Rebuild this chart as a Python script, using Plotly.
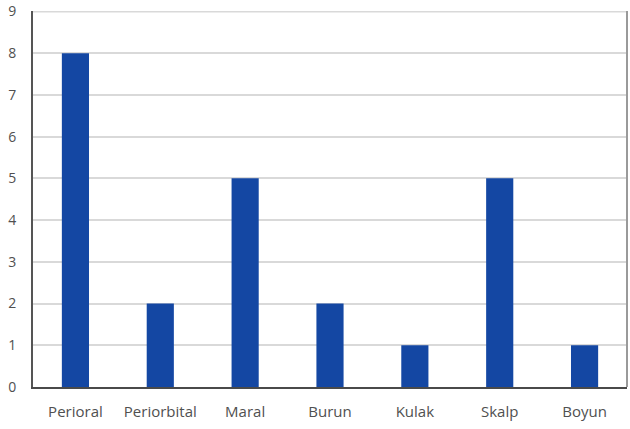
import plotly.graph_objects as go

categories = ["Perioral", "Periorbital", "Maral", "Burun", "Kulak", "Skalp", "Boyun"]
values = [8, 2, 5, 2, 1, 5, 1]
y_ticks = list(range(0, 10))

fig = go.Figure(go.Bar(
    x=categories, y=values,
    marker=dict(color="#1447a3", line=dict(width=0)),
))

fig.update_layout(
    width=630, height=429,
    margin=dict(l=33, r=3, t=11, b=42, autoexpand=False),
    paper_bgcolor="white", plot_bgcolor="white",
    bargap=0.68,
    showlegend=False,
    font=dict(family="Open Sans", color="#555555"),
)
fig.update_xaxes(
    showline=True, linecolor="#4a4a4a", linewidth=2, automargin=False,
    mirror=False, ticks="", tickfont=dict(size=15, color="#505050"),
    ticklabelstandoff=10,
)
fig.update_yaxes(
    range=[0, 9.01], tickvals=y_ticks, showgrid=True, gridcolor="#d9d9d9", gridwidth=2,
    showline=True, linecolor="#555555", linewidth=2, zeroline=False, automargin=False,
    ticks="", tickfont=dict(size=14, color="#505050"), ticklabelstandoff=12,
    ticklabeloverflow="allow",
)
# right frame line
fig.add_shape(type="line", xref="paper", yref="paper", x0=1, x1=1, y0=0, y1=1,
              line=dict(color="#9a9a9a", width=2))
# top gridline (kept visible at the top edge)
fig.add_shape(type="line", xref="paper", yref="y", x0=0, x1=1, y0=y_ticks[-1], y1=y_ticks[-1],
              line=dict(color="#d9d9d9", width=2), layer="below")

fig.write_html("out.html", config={"displayModeBar": False},
               post_script="document.body.style.margin='0';document.body.style.overflow='hidden';")
